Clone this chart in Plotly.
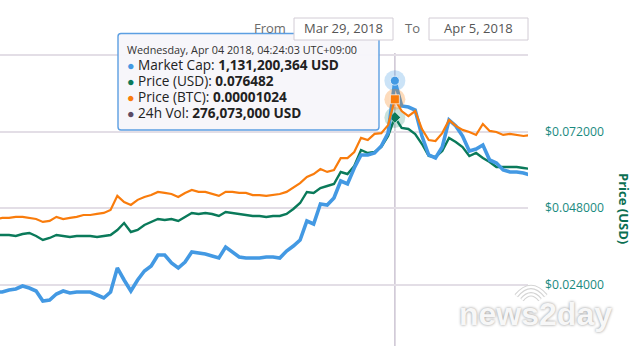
import pandas as pd
import plotly.graph_objects as go

# ---- figure geometry (pixels) ----
W, H = 640, 346
ML, MR, MT, MB = 0, 112, 53, 0
PW, PH = W - ML - MR, H - MT - MB

# ---- data: hourly samples ----
times = pd.date_range("2018-04-01 17:24:03", periods=80, freq="h")

# Market cap, million USD
market_cap_musd = [
    585.6, 585.6, 590.8, 593.4, 601.1, 595.9, 588.2, 562.4, 565.0, 580.4,
    588.2, 583.0, 585.6, 585.6, 585.6, 577.9, 570.1, 585.6, 647.6, 616.6,
    588.2, 616.6, 639.8, 652.7, 681.2, 681.2, 660.5, 647.6, 663.1, 688.9,
    686.3, 683.7, 678.6, 673.4, 701.8, 688.9, 676.0, 673.4, 673.4, 673.4,
    676.0, 676.0, 673.4, 691.5, 704.4, 719.9, 768.9, 761.2, 812.8, 810.3,
    828.3, 872.2, 864.5, 905.8, 939.4, 939.4, 944.6, 962.6, 996.2, 1131.200364,
    1065.9, 1063.3, 1055.6, 988.4, 939.4, 931.7, 960.0, 1029.7, 1014.2, 988.4,
    949.7, 954.8, 965.2, 926.4, 918.7, 900.6, 895.5, 895.5, 892.9, 887.7,
]

# Price in USD
price_usd = [
    0.03959, 0.03959, 0.03959, 0.03928, 0.03991, 0.04022, 0.03928, 0.03803, 0.03866, 0.03959,
    0.03928, 0.03897, 0.03928, 0.03928, 0.03928, 0.03897, 0.03928, 0.03959, 0.04116, 0.04336,
    0.04053, 0.04116, 0.04273, 0.04367, 0.04462, 0.04430, 0.04462, 0.04399, 0.04524, 0.04650,
    0.04618, 0.04650, 0.04618, 0.04556, 0.04681, 0.04650, 0.04618, 0.04587, 0.04556, 0.04556,
    0.04524, 0.04556, 0.04556, 0.04618, 0.04775, 0.04963, 0.05309, 0.05277, 0.05434, 0.05497,
    0.05559, 0.05936, 0.05873, 0.06124, 0.06626, 0.06532, 0.06563, 0.06720, 0.07065, 0.076482,
    0.07316, 0.07285, 0.07128, 0.06814, 0.06438, 0.06407, 0.06595, 0.07003, 0.06877, 0.06720,
    0.06438, 0.06532, 0.06375, 0.06249, 0.06093, 0.06093, 0.06093, 0.06093, 0.06062, 0.06030,
]

# Price in BTC, satoshi
price_btc_sat = [
    574, 578, 578, 582, 582, 578, 574, 563, 567, 582,
    574, 578, 582, 589, 589, 593, 597, 608, 661, 638,
    627, 646, 657, 664, 676, 672, 668, 657, 672, 683,
    676, 676, 668, 661, 676, 676, 672, 672, 664, 664,
    661, 664, 668, 676, 691, 709, 732, 743, 762, 751,
    758, 803, 803, 826, 879, 871, 894, 897, 927, 1024,
    980, 961, 980, 912, 871, 867, 897, 946, 924, 909,
    901, 890, 931, 905, 901, 890, 894, 890, 886, 890,
]

# Hovered point
hover_time = "2018-04-04 04:24:03"
hover_label = "Wednesday, Apr 04 2018, 04:24:03 UTC+09:00"
hover_market_cap = 1131200364
hover_price_usd = 0.076482
hover_price_btc = 0.00001024
hover_vol_24h = 276073000

# Axis setup
x_range = ["2018-04-01 18:04:03", "2018-04-05 00:04:03"]
price_ticks = [0.024, 0.048, 0.072, 0.096]
price_tick_text = ["$0.024000", "$0.048000", "$0.072000", ""]
price_range = [0.004771, 0.096693]
mcap_range = [446.17e6, 1202.73e6]
btc_range = [0.0000009666, 0.0000119804]

from_date, to_date = "Mar 29, 2018", "Apr 5, 2018"

BLUE = "#4399e3"
GREEN = "#0a7a5a"
ORANGE = "#f97c0c"
VOL = "#5b4b66"
TEAL = "#1a8a80"


def px(xp):
    return (xp - ML) / PW


def py(yp):
    return (H - MB - yp) / PH


fig = go.Figure()

fig.add_trace(go.Scatter(
    x=times, y=[v * 1e6 for v in market_cap_musd], yaxis="y2", mode="lines",
    line=dict(color=BLUE, width=3.6), name="Market Cap"))
fig.add_trace(go.Scatter(
    x=times, y=price_usd, yaxis="y", mode="lines",
    line=dict(color=GREEN, width=2.4), name="Price (USD)"))
fig.add_trace(go.Scatter(
    x=times, y=[v * 1e-8 for v in price_btc_sat], yaxis="y3", mode="lines",
    line=dict(color=ORANGE, width=2.2), name="Price (BTC)"))

# hover halos and markers
for val, ax, col, halo, sym in [
    (hover_market_cap, "y2", BLUE, "rgba(67,153,227,0.28)", "circle"),
    (hover_price_btc, "y3", ORANGE, "rgba(249,124,12,0.28)", "square"),
    (hover_price_usd, "y", GREEN, "rgba(10,122,90,0.22)", "diamond"),
]:
    fig.add_trace(go.Scatter(
        x=[hover_time], y=[val], yaxis=ax, mode="markers",
        marker=dict(size=21, color=halo, line=dict(width=0)), showlegend=False))
    fig.add_trace(go.Scatter(
        x=[hover_time], y=[val], yaxis=ax, mode="markers",
        marker=dict(size=9, symbol=sym, color=col, line=dict(width=1, color="rgba(255,255,255,0.7)")),
        showlegend=False))

shapes = [
    # crosshair
    dict(type="line", xref="x", yref="paper", x0=hover_time, x1=hover_time, y0=0, y1=1,
         line=dict(color="#cfc8d6", width=1.6), layer="below"),
]


def rounded_rect(x0, y0, x1, y1, r):
    rx = r / PW
    ry = r / PH
    X0, X1, Y0, Y1 = px(x0), px(x1), py(y0), py(y1)
    return (f"M{X0+rx},{Y0} L{X1-rx},{Y0} Q{X1},{Y0} {X1},{Y0-ry} "
            f"L{X1},{Y1+ry} Q{X1},{Y1} {X1-rx},{Y1} L{X0+rx},{Y1} "
            f"Q{X0},{Y1} {X0},{Y1+ry} L{X0},{Y0-ry} Q{X0},{Y0} {X0+rx},{Y0} Z")


# tooltip box
shapes.append(dict(type="path", xref="paper", yref="paper",
                   path=rounded_rect(118, 33.5, 379, 130, 3),
                   fillcolor="rgba(247,246,250,0.97)", line=dict(color="#5c9fe2", width=1.4),
                   layer="above"))

# date range inputs
for x0, x1 in [(294, 393), (429, 528)]:
    shapes.append(dict(type="rect", xref="paper", yref="paper",
                       x0=px(x0), x1=px(x1), y0=py(18), y1=py(40),
                       line=dict(color="#d2ccd5", width=1), fillcolor="white", layer="above"))

# watermark signal arcs
for r, w, c in [(11, 4.5, "#d4d4d4"), (18, 4.5, "#d4d4d4"), (11, 2.4, "#ffffff"), (18, 2.4, "#ffffff")]:
    cx, cy = 531, 306
    p0 = (cx - r * 0.82, cy - r * 0.57)
    p1 = (cx + r * 0.82, cy - r * 0.57)
    ctrl = (cx, cy - r * 1.55)
    shapes.append(dict(type="path", xref="paper", yref="paper",
                       path=f"M{px(p0[0])},{py(p0[1])} Q{px(ctrl[0])},{py(ctrl[1])} {px(p1[0])},{py(p1[1])}",
                       line=dict(color=c, width=w), layer="above"))

FONT = "Open Sans"
annotations = []


def ann(text, x, y, size, color="#333", anchor="left", **kw):
    annotations.append(dict(text=text, x=px(x), y=py(y), xref="paper", yref="paper",
                            xanchor=anchor, yanchor="middle", showarrow=False,
                            font=dict(family=FONT, size=size, color=color), **kw))


# tooltip text: one block, 16 px line pitch
rows = [
    (BLUE, "Market Cap", f"{hover_market_cap:,} USD"),
    (GREEN, "Price (USD)", f"{hover_price_usd:.6f}"),
    (ORANGE, "Price (BTC)", f"{hover_price_btc:.8f}"),
    (VOL, "24h Vol", f"{hover_vol_24h:,} USD"),
]
lines = [f'<span style="font-size:10.8px;color:#333333">{hover_label}</span>']
for col, lab, val in rows:
    lines.append(f'<span style="font-size:12.5px;color:{col}">●</span>'
                 f'<span style="font-size:13.6px"> {lab}: <b>{val}</b></span>')
annotations.append(dict(text="<br>".join(lines), x=px(125), y=py(82), xref="paper", yref="paper",
                        xanchor="left", yanchor="middle", align="left", showarrow=False,
                        font=dict(family=FONT, size=12.3, color="#222222")))

# date range labels
ann("From", 270, 28, 13, "#6b6b6b", anchor="center")
ann(from_date, 343.5, 28.5, 13, "#555555", anchor="center")
ann("To", 412.5, 28, 13, "#6b6b6b", anchor="center")
ann(to_date, 478.5, 28.5, 13, "#555555", anchor="center")

# axis title
annotations.append(dict(text="<b>Price (USD)</b>", x=px(624), y=py(208), xref="paper", yref="paper",
                        xanchor="center", yanchor="middle", showarrow=False, textangle=90,
                        font=dict(family=FONT, size=13, color="#0b6f52")))

# watermark
annotations.append(dict(text="<b>news2day</b>", x=px(535), y=py(313.5), xref="paper", yref="paper",
                        xanchor="center", yanchor="middle", showarrow=False,
                        font=dict(family="Liberation Sans", size=32, color="#f7f7f7",
                                  shadow="0px 0px 3px rgba(0,0,0,0.45)")))

fig.update_layout(
    width=W, height=H,
    margin=dict(l=ML, r=MR, t=MT, b=MB, pad=0),
    paper_bgcolor="white", plot_bgcolor="white",
    showlegend=False, hovermode=False,
    xaxis=dict(type="date", range=x_range, visible=False, showgrid=False, zeroline=False),
    yaxis=dict(side="right", range=price_range, tickvals=price_ticks, ticktext=price_tick_text,
               showgrid=True, gridcolor="#e3dee6", gridwidth=1.6, zeroline=False,
               showline=False, ticks="", ticklabelstandoff=16,
               tickfont=dict(family=FONT, size=12.2, color=TEAL)),
    yaxis2=dict(overlaying="y", range=mcap_range, visible=False, showgrid=False),
    yaxis3=dict(overlaying="y", range=btc_range, visible=False, showgrid=False),
    shapes=shapes,
    annotations=annotations,
)

fig.write_html("out.html")
